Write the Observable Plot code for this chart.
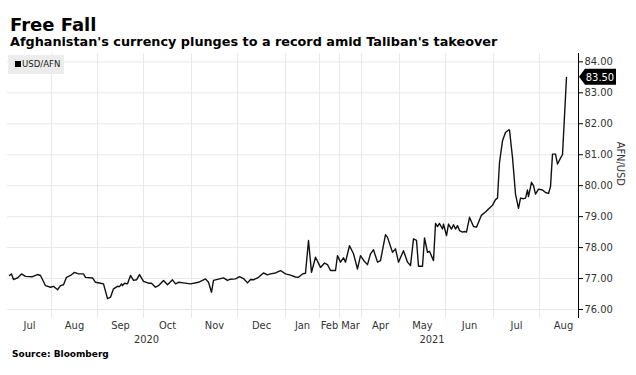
<!DOCTYPE html>
<html><head><meta charset="utf-8">
<script src="https://cdn.jsdelivr.net/npm/d3@7"></script>
<script src="https://cdn.jsdelivr.net/npm/@observablehq/plot@0.6"></script>
<style>
body{margin:0;background:#fff;}
#wrap{position:relative;width:636px;height:375px;overflow:hidden;font-family:"DejaVu Sans",sans-serif;color:#000;}
#wrap svg{position:absolute;left:0;top:0;}
.t{position:absolute;white-space:nowrap;font-weight:bold;}
#title{left:10px;top:16px;font-size:18px;line-height:18px;}
#subtitle{left:10px;top:36px;font-size:12.8px;line-height:12.8px;}
#source{left:12px;top:350px;font-size:9px;line-height:9px;}
#legend{position:absolute;left:8px;top:55px;width:56px;height:19px;background:#ececec;}
#legend .sw{position:absolute;left:7px;top:6px;width:6px;height:6px;background:#000;}
#legend .lb{position:absolute;left:14px;top:4px;font-family:"DejaVu Sans Condensed","DejaVu Sans",sans-serif;font-size:9.5px;line-height:10px;color:#222;}
</style></head>
<body>
<div id="wrap">
  <div id="chart"></div>
  <div class="t" id="title"></div>
  <div class="t" id="subtitle"></div>
  <div class="t" id="source"></div>
  <div id="legend"><div class="sw"></div><div class="lb"></div></div>
</div>
<script>
const titleText = "Free Fall";
const subtitleText = "Afghanistan's currency plunges to a record amid Taliban's takeover";
const sourceText = "Source: Bloomberg";
const seriesName = "USD/AFN";
const axisLabel = "AFN/USD";

const months = ["Jul","Aug","Sep","Oct","Nov","Dec","Jan","Feb","Mar","Apr","May","Jun","Jul","Aug"];
const sessionsPerMonth = [22,23,23,24,23,24,17,10,11,19,23,24,23,24];
const years = ["2020","2021"];
const monthsPerYear = [6, 8];
const lastSession = 285.5;
const yTicks = [76,77,78,79,80,81,82,83,84];
const lastValue = 83.50;

const session = [1,2,3,5,7,9,12.5,15,16.5,19,21.5,23,25,26.5,28,29.5,31.5,33.5,35.5,38,39,42.5,44,46.5,48,50,51.5,53,55,56,57,57.5,58.5,60,61.5,63,64.5,66,68,70.5,72,74,75.5,78,80,82.5,84,85.5,88,91.5,95.5,99,100.5,102,103,105.5,108,110,111.5,114,116,118,120,121.5,123,125.5,128,130,131.5,134,136.5,139,141.5,144,145.5,147.5,149,150.5,152,154,156.5,158.5,160,161.5,164,165,166.5,168,169,171,173,175,176.5,178.5,180,181.5,183,185,186.5,189,190,192.5,194,195.5,198,200,201.5,203,204.5,205.5,207.5,208.5,210,211,213,214,215,216,217.5,218,219.5,220.5,222,223,224,225,226,227.5,228.5,229.5,231,233,234.5,237,239,240.5,242.5,244,245,246,247.5,249,250.5,251,252.5,254,255.5,256.5,258,259,260,260.5,262,263,264,265.5,267.5,269,270.5,271.5,272.5,274,275,276.5,277.5,279.5];
const rate = [77.10,77.15,76.97,77.02,77.15,77.07,77.06,77.13,77.10,76.77,76.72,76.75,76.64,76.77,76.80,77.04,77.10,77.20,77.15,77.15,77.04,77.02,76.88,76.85,76.83,76.35,76.40,76.67,76.75,76.74,76.83,76.77,76.85,76.83,77.10,76.94,76.96,77.13,76.91,76.85,76.85,76.72,76.77,76.94,76.80,76.96,76.83,76.88,76.86,76.83,76.88,76.99,76.88,76.56,76.94,76.98,77.02,76.94,76.98,76.99,77.06,77.00,76.86,76.97,76.96,77.04,77.18,77.12,77.15,77.18,77.26,77.15,77.11,77.05,77.04,77.15,77.17,78.23,77.20,77.69,77.36,77.50,77.45,77.26,77.26,77.74,77.53,77.67,77.53,78.06,77.80,77.31,77.74,77.55,77.45,77.80,77.93,77.53,77.58,78.42,78.33,77.85,77.96,77.53,77.90,77.53,77.42,78.28,78.23,77.40,77.40,78.31,77.85,77.88,77.58,78.78,78.68,78.78,78.60,78.76,78.39,78.76,78.60,78.74,78.60,78.71,78.55,78.50,78.52,78.50,78.98,78.68,78.66,79.05,79.15,79.25,79.37,79.55,79.60,80.75,81.45,81.72,81.80,81.80,80.91,79.73,79.27,79.60,79.58,79.60,79.86,79.65,80.11,80.00,79.73,79.89,79.86,79.78,79.75,79.97,81.02,81.02,80.70,80.89,81.00,83.50];

document.getElementById("title").textContent = titleText;
document.getElementById("subtitle").textContent = subtitleText;
document.getElementById("source").textContent = sourceText;
document.querySelector("#legend .lb").textContent = seriesName;

const monthStart = [0];
sessionsPerMonth.forEach(n => monthStart.push(monthStart[monthStart.length - 1] + n));
const monthMid = months.map((m, i) => (monthStart[i] + monthStart[i + 1]) / 2);
const gridX = monthStart.slice(1, months.length).filter(s => s <= lastSession);
const yearBounds = [0, monthStart[monthsPerYear[0]], lastSession];
const yearMid = years.map((y, i) => (yearBounds[i] + yearBounds[i + 1]) / 2);

const data = session.map((s, i) => ({s, v: rate[i]}));

const plot = Plot.plot({
  width: 636,
  height: 375,
  marginTop: 53,
  marginBottom: 57,
  marginLeft: 7,
  marginRight: 58,
  style: {fontFamily: "'DejaVu Sans Condensed','DejaVu Sans',sans-serif", fontSize: "11px", background: "#fff", color: "#333"},
  x: {domain: [0, lastSession], axis: null},
  y: {domain: [75.71, 84.27], axis: null},
  marks: [
    Plot.gridY(yTicks, {stroke: "#e8e8e8", strokeOpacity: 1}),
    Plot.gridX(gridX, {stroke: "#e8e8e8", strokeOpacity: 1}),
    Plot.line(data, {x: "s", y: "v", stroke: "#111", strokeWidth: 1.4}),
    Plot.ruleX([lastSession], {stroke: "#000", strokeWidth: 1}),
    Plot.axisY({anchor: "right", ticks: yTicks, tickFormat: d => d.toFixed(2), tickSize: 4, tickPadding: 2, fontSize: 11, label: null, stroke: "#000"}),
    Plot.text(months, {x: (d, i) => monthMid[i], frameAnchor: "bottom", dy: 10, fill: "#333", fontSize: 11}),
    Plot.text(years, {x: (d, i) => yearMid[i], frameAnchor: "bottom", dy: 24, fill: "#333", fontSize: 11}),
    Plot.text([axisLabel], {frameAnchor: "right", dx: 42, rotate: 90, fill: "#333", fontSize: 11})
  ]
});

const ys = plot.scale("y").apply(lastValue);
const xr = plot.scale("x").apply(lastSession);
const svg = d3.select(plot);
svg.append("path")
  .attr("d", `M${xr + 1},${ys} L${xr + 7},${ys - 8} H${xr + 38} V${ys + 8} H${xr + 7} Z`)
  .attr("fill", "#000");
svg.append("text")
  .attr("x", xr + 22).attr("y", ys).attr("dy", "0.35em")
  .attr("text-anchor", "middle").attr("fill", "#fff").attr("font-size", 11)
  .text(lastValue.toFixed(2));

document.getElementById("chart").appendChild(plot);
</script>
</body></html>
